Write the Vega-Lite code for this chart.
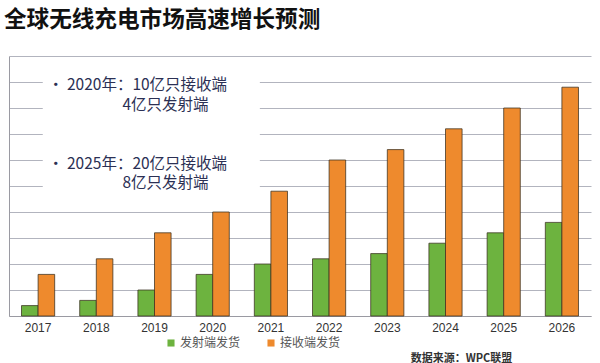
{
  "$schema": "https://vega.github.io/schema/vega-lite/v6.json",
  "width": 582,
  "height": 260,
  "autosize": "none",
  "padding": {"left": 9, "top": 56, "right": 9, "bottom": 47},
  "background": "white",
  "title": {
    "text": "全球无线充电市场高速增长预测",
    "anchor": "start",
    "frame": "group",
    "font": "Noto Sans CJK SC",
    "fontSize": 22.6,
    "fontWeight": "bold",
    "color": "#111111",
    "dx": -5,
    "offset": 24
  },
  "config": {"view": {"stroke": null}},
  "datasets": {
    "bars": [
      {"year": "2017", "series": "发射端发货", "value": 0.4},
      {"year": "2017", "series": "接收端发货", "value": 1.6},
      {"year": "2018", "series": "发射端发货", "value": 0.6},
      {"year": "2018", "series": "接收端发货", "value": 2.2},
      {"year": "2019", "series": "发射端发货", "value": 1.0},
      {"year": "2019", "series": "接收端发货", "value": 3.2},
      {"year": "2020", "series": "发射端发货", "value": 1.6},
      {"year": "2020", "series": "接收端发货", "value": 4.0},
      {"year": "2021", "series": "发射端发货", "value": 2.0},
      {"year": "2021", "series": "接收端发货", "value": 4.8},
      {"year": "2022", "series": "发射端发货", "value": 2.2},
      {"year": "2022", "series": "接收端发货", "value": 6.0},
      {"year": "2023", "series": "发射端发货", "value": 2.4},
      {"year": "2023", "series": "接收端发货", "value": 6.4},
      {"year": "2024", "series": "发射端发货", "value": 2.8},
      {"year": "2024", "series": "接收端发货", "value": 7.2},
      {"year": "2025", "series": "发射端发货", "value": 3.2},
      {"year": "2025", "series": "接收端发货", "value": 8.0},
      {"year": "2026", "series": "发射端发货", "value": 3.6},
      {"year": "2026", "series": "接收端发货", "value": 8.8}
    ],
    "box": [
      {"x0": 0.58, "x1": 4.31, "y0": 4.65, "y1": 9.85}
    ],
    "notes": [
      {"pos": 0.67, "level": 8.88, "label": "• 2020年：10亿只接收端"},
      {"pos": 1.95, "level": 8.12, "label": "4亿只发射端"},
      {"pos": 0.67, "level": 5.84, "label": "• 2025年：20亿只接收端"},
      {"pos": 1.95, "level": 5.12, "label": "8亿只发射端"}
    ]
  },
  "layer": [
    {
      "data": {"name": "box"},
      "mark": {"type": "rect", "fill": "white", "stroke": null},
      "encoding": {
        "x": {"field": "x0", "type": "quantitative", "scale": {"domain": [0, 10], "nice": false, "zero": false}, "axis": null},
        "x2": {"field": "x1"},
        "y": {
          "field": "y0",
          "type": "quantitative",
          "scale": {"domain": [0, 10], "nice": false},
          "axis": {
            "tickCount": 10,
            "labels": false,
            "ticks": false,
            "title": null,
            "domain": true,
            "domainColor": "#9a9aa2",
            "gridColor": "#b2b4be",
            "gridWidth": 1
          }
        },
        "y2": {"field": "y1"}
      }
    },
    {
      "data": {"name": "bars"},
      "mark": {"type": "bar", "stroke": "#3a3020", "strokeWidth": 1, "strokeOpacity": 0.75},
      "encoding": {
        "x": {
          "field": "year",
          "type": "nominal",
          "scale": {"paddingInner": 0.43, "paddingOuter": 0.215},
          "axis": {
            "labelAngle": 0,
            "labelFont": "Liberation Sans",
            "labelFontSize": 12,
            "labelColor": "#333333",
            "labelPadding": 6,
            "ticks": false,
            "domainColor": "#9a9aa2",
            "title": "数据来源：WPC联盟",
            "titleFont": "Noto Sans CJK SC",
            "titleFontSize": 11,
            "titleFontWeight": "bold",
            "titleColor": "#333333",
            "titleX": 452,
            "titleY": 36,
            "titleAlign": "center",
            "titleBaseline": "top"
          }
        },
        "xOffset": {"field": "series", "type": "nominal", "scale": {"domain": ["发射端发货", "接收端发货"], "paddingInner": 0}},
        "y": {
          "field": "value",
          "type": "quantitative",
          "scale": {"domain": [0, 10], "nice": false}
        },
        "color": {
          "field": "series",
          "type": "nominal",
          "scale": {"domain": ["发射端发货", "接收端发货"], "range": ["#6db33f", "#ee8a2d"]},
          "legend": {
            "title": null,
            "orient": "none",
            "direction": "horizontal",
            "legendX": 156,
            "legendY": 281,
            "symbolType": "square",
            "symbolSize": 50,
            "symbolStrokeWidth": 0,
            "labelFont": "Noto Sans CJK SC",
            "labelFontSize": 12,
            "labelColor": "#555555",
            "labelOffset": 3,
            "columnPadding": 24,
            "padding": 0
          }
        }
      }
    },
    {
      "data": {"name": "notes"},
      "mark": {"type": "text", "align": "left", "baseline": "middle", "font": "Noto Sans CJK SC", "fontSize": 15.5, "color": "#2b3054"},
      "encoding": {
        "x": {"field": "pos", "type": "quantitative", "scale": {"domain": [0, 10], "nice": false, "zero": false}, "axis": null},
        "y": {"field": "level", "type": "quantitative"},
        "text": {"field": "label"}
      }
    }
  ],
  "resolve": {"scale": {"x": "independent"}}
}
